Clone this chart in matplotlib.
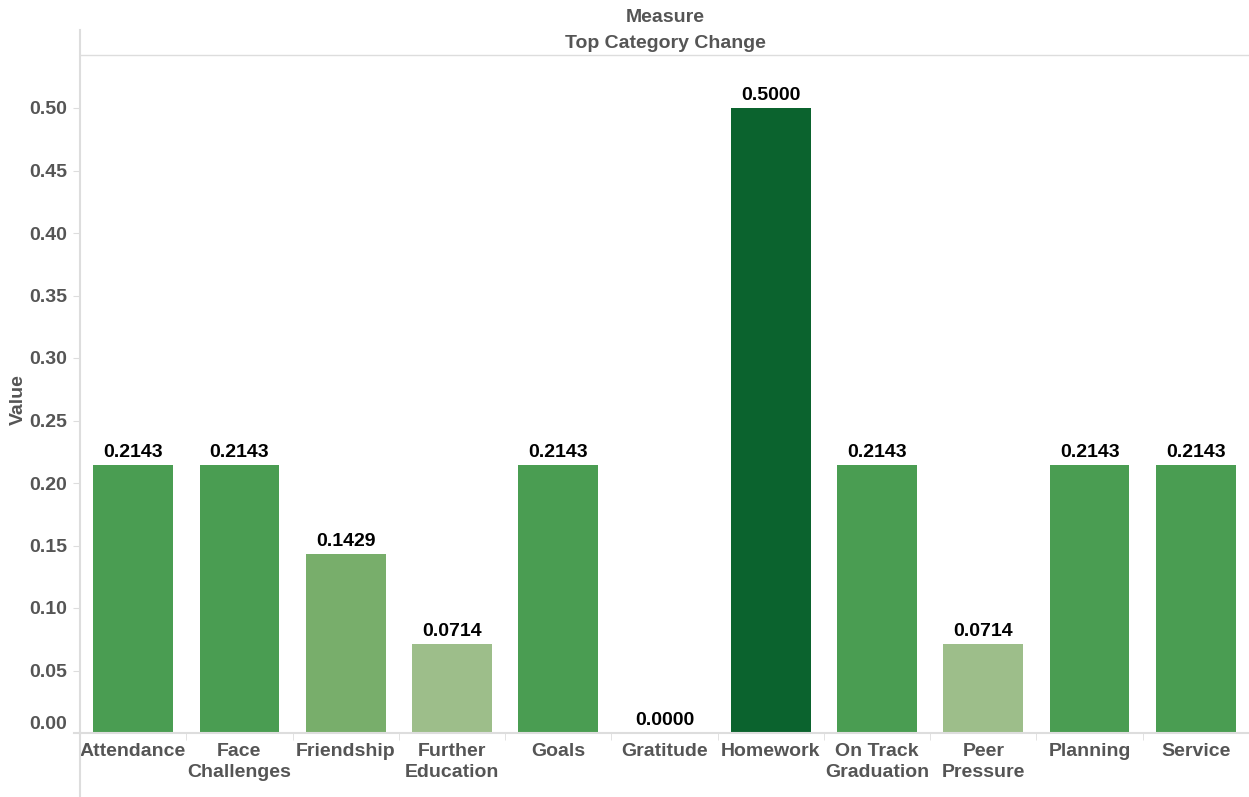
import matplotlib
matplotlib.use('Agg')
import matplotlib.pyplot as plt
from matplotlib.lines import Line2D

categories = ['Attendance', 'Face\nChallenges', 'Friendship', 'Further\nEducation', 'Goals',
              'Gratitude', 'Homework', 'On Track\nGraduation', 'Peer\nPressure', 'Planning', 'Service']
values = [0.2143, 0.2143, 0.1429, 0.0714, 0.2143, 0.0, 0.5, 0.2143, 0.0714, 0.2143, 0.2143]
y_ticks = [0.00, 0.05, 0.10, 0.15, 0.20, 0.25, 0.30, 0.35, 0.40, 0.45, 0.50]

plt.rcParams['font.family'] = ['Liberation Sans', 'DejaVu Sans']
GREY = '#555555'
LINE = '#dddddd'
FS = 14


def bar_color(v):
    if v >= 0.4:
        return '#0b632e'
    if v >= 0.2:
        return '#4a9d52'
    if v >= 0.1:
        return '#78ae6b'
    return '#9dbe8a'


W, H = 1249, 797
fig = plt.figure(figsize=(W / 100, H / 100), dpi=100)
ax = fig.add_axes([80 / W, (H - 733) / H, (W - 80) / W, (733 - 55) / H])

xs = list(range(len(categories)))
ax.bar(xs, values, width=0.75, color=[bar_color(v) for v in values])
for x, v in zip(xs, values):
    ax.annotate('%.4f' % v, (x, v), xytext=(0, 3), textcoords='offset points',
                ha='center', va='bottom', fontsize=FS, fontweight='bold', color='black')

ax.set_xlim(-0.5, len(categories) - 0.5)
ax.set_ylim(0, (733 - 55) / 1250)
ax.set_yticks(y_ticks)
ax.set_yticklabels(['%.2f' % t for t in y_ticks], fontsize=FS, fontweight='bold', color=GREY)
ax.tick_params(axis='y', length=5, color=LINE, pad=4)
# bottom label sits above the baseline, as in the source
ax.get_yticklabels()[0].set_va('bottom')
ax.yaxis.get_major_ticks()[0].tick1line.set_visible(False)

ax.set_xticks(xs)
ax.set_xticklabels(categories, fontsize=FS, fontweight='bold', color=GREY, linespacing=1.3)
ax.set_xticks([i + 0.5 for i in xs[:-1]], minor=True)
ax.tick_params(axis='x', which='major', length=0, pad=7.5)
ax.tick_params(axis='x', which='minor', length=5, color=LINE)

for s in ['left', 'right']:
    ax.spines[s].set_visible(False)
ax.spines['top'].set_color(LINE)
ax.spines['bottom'].set_color(LINE)
ax.spines['top'].set_linewidth(1)
ax.spines['bottom'].set_linewidth(1.5)

# extended left rule and bottom rule stub
fig.add_artist(Line2D([80 / W, 80 / W], [0, (H - 30) / H], color=LINE, lw=1.5))
fig.add_artist(Line2D([74 / W, 80 / W], [(H - 733) / H, (H - 733) / H], color=LINE, lw=1.5))

fig.text(18 / W, (H - 400) / H, 'Value', rotation=90, ha='center', va='center',
         fontsize=FS, fontweight='bold', color=GREY)
fig.text(665 / W, (H - 18) / H, 'Measure', ha='center', va='center',
         fontsize=FS, fontweight='bold', color=GREY)
fig.text(665 / W, (H - 43) / H, 'Top Category Change', ha='center', va='center',
         fontsize=FS, fontweight='bold', color=GREY)

fig.savefig('out.png', dpi=100)
